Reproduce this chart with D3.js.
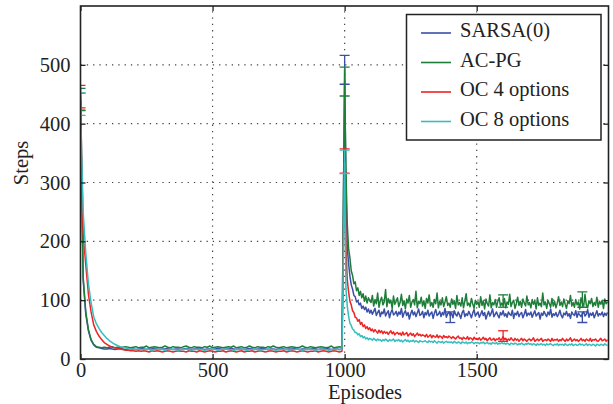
<!DOCTYPE html>
<html>
<head>
<meta charset="utf-8">
<script src="https://cdn.jsdelivr.net/npm/d3@7"></script>
<style>
  body { margin: 0; background: #fff; }
  svg { display: block; }
  text { font-family: "Liberation Serif", "Times New Roman", serif; fill: #222; }
</style>
</head>
<body>
<svg></svg>
<script>
// episode index: a mean every 10 episodes up to 990, then every 5 episodes
var episodes = d3.range(0, 1000, 10).concat(d3.range(1000, 2000, 5));

var xTicks = [0, 500, 1000, 1500];
var yTicks = [0, 100, 200, 300, 400, 500];

var seriesNames = ['SARSA(0)', 'AC-PG', 'OC 4 options', 'OC 8 options'];
var seriesColors = ['#3a4fa6', '#1f7d3a', '#ee2424', '#36bdbd'];

var sarsa = [
  // 0 - 990
  437, 135, 76, 48, 32, 24, 20, 19, 18, 17, 17, 18, 17, 16, 17, 18, 17, 16, 17, 17,
  17, 16, 17, 18, 17, 16, 17, 17, 18, 17, 16, 17, 17, 18, 17, 16, 17, 17, 16, 17,
  18, 17, 16, 17, 17, 18, 17, 16, 17, 17, 16, 17, 18, 17, 16, 17, 17, 18, 17, 16,
  17, 17, 16, 17, 18, 17, 16, 17, 17, 18, 17, 16, 17, 17, 16, 17, 18, 17, 16, 17,
  17, 18, 17, 16, 17, 17, 16, 17, 18, 17, 16, 17, 17, 18, 17, 16, 17, 17, 16, 17,
  // 1000 - 1995
  492, 290, 190, 162, 141, 126, 119, 108, 106, 97, 99, 92, 95, 86, 90, 84, 88, 80, 85, 78,
  83, 76, 81, 86, 74, 79, 83, 72, 80, 77, 85, 73, 78, 82, 70, 79, 84, 75, 77, 81,
  73, 80, 76, 86, 71, 78, 82, 74, 79, 68, 77, 83, 75, 80, 72, 78, 85, 74, 76, 81,
  70, 79, 75, 83, 73, 77, 80, 69, 78, 84, 74, 76, 81, 72, 79, 75, 86, 71, 77, 80,
  74, 78, 70, 82, 76, 73, 80, 75, 69, 79, 83, 72, 77, 74, 81, 76, 70, 78, 84, 73,
  77, 80, 71, 76, 82, 74, 79, 68, 75, 81, 73, 78, 85, 72, 76, 80, 74, 70, 79, 75,
  82, 73, 77, 71, 80, 76, 74, 83, 69, 78, 75, 81, 72, 77, 79, 70, 76, 84, 73, 78,
  75, 80, 71, 77, 82, 73, 76, 79, 68, 78, 74, 81, 76, 72, 80, 75, 85, 71, 77, 74,
  79, 72, 76, 83, 74, 70, 78, 75, 81, 73, 77, 69, 80, 76, 74, 82, 71, 78, 75, 72,
  77, 80, 73, 76, 84, 71, 78, 74, 79, 70, 76, 82, 73, 77, 75, 80, 72, 78, 74, 79
];

var acpg = [
  441, 140, 80, 50, 33, 25, 21, 20, 19, 20, 19, 20, 21, 19, 20, 19, 20, 21, 20, 19,
  20, 21, 19, 20, 20, 22, 19, 20, 21, 20, 19, 20, 22, 20, 19, 21, 20, 20, 19, 21,
  22, 20, 19, 21, 20, 20, 19, 21, 20, 22, 19, 20, 21, 20, 19, 20, 21, 20, 22, 19,
  20, 21, 19, 20, 22, 20, 19, 21, 20, 20, 19, 21, 20, 22, 20, 19, 20, 21, 19, 20,
  21, 20, 19, 20, 22, 20, 19, 21, 20, 19, 20, 21, 20, 19, 20, 22, 19, 20, 21, 20,
  471, 320, 230, 188, 172, 150, 142, 128, 131, 116, 121, 108, 115, 104, 111, 98, 107, 95, 104, 99,
  96, 108, 90, 101, 94, 112, 88, 99, 105, 92, 97, 118, 89, 103, 95, 100, 86, 107, 93, 98,
  104, 89, 96, 110, 91, 99, 85, 102, 95, 108, 88, 97, 101, 92, 115, 87, 98, 94, 105, 90,
  99, 86, 103, 95, 109, 90, 96, 88, 101, 94, 112, 87, 98, 92, 104, 89, 97, 106, 91, 95,
  88, 102, 93, 99, 86, 108, 92, 96, 90, 104, 87, 98, 111, 91, 95, 89, 103, 94, 86, 100,
  93, 97, 88, 106, 91, 99, 85, 102, 94, 90, 109, 87, 96, 92, 101, 88, 98, 104, 90, 95,
  91, 103, 87, 97, 93, 110, 89, 96, 100, 86, 94, 105, 91, 98, 88, 102, 95, 90, 107, 92,
  96, 87, 101, 93, 99, 85, 104, 91, 95, 89, 112, 92, 97, 86, 100, 94, 88, 103, 90, 98,
  87, 95, 106, 91, 97, 89, 102, 93, 86, 99, 94, 108, 90, 96, 88, 101, 92, 97, 85, 104,
  95, 90, 110, 92, 87, 99, 94, 103, 89, 96, 91, 105, 88, 98, 93, 100, 86, 102, 94, 97
];

var oc4 = [
  446, 212, 160, 110, 80, 58, 47, 39, 33, 28, 25, 22, 20, 19, 18, 17, 16, 15, 15, 14,
  14, 13, 14, 13, 14, 13, 12, 14, 13, 14, 13, 12, 13, 14, 13, 12, 13, 14, 13, 13,
  12, 14, 13, 13, 12, 14, 13, 12, 13, 14, 13, 12, 13, 13, 14, 12, 13, 14, 13, 12,
  13, 14, 12, 13, 13, 14, 12, 13, 14, 13, 12, 13, 14, 13, 12, 13, 13, 14, 12, 13,
  14, 13, 12, 13, 14, 13, 12, 13, 13, 14, 12, 13, 14, 13, 12, 13, 14, 13, 12, 13,
  337, 190, 135, 114, 98, 92, 82, 79, 71, 70, 64, 67, 59, 62, 55, 58, 52, 55, 50, 53,
  48, 51, 46, 50, 47, 44, 49, 45, 48, 43, 47, 44, 46, 42, 45, 48, 43, 46, 41, 44,
  45, 42, 44, 40, 46, 41, 43, 45, 39, 42, 44, 40, 43, 38, 41, 44, 40, 42, 39, 41,
  40, 38, 42, 37, 39, 41, 36, 40, 38, 37, 41, 36, 39, 38, 35, 40, 37, 38, 36, 39,
  37, 35, 38, 36, 34, 37, 39, 35, 36, 33, 37, 35, 34, 38, 33, 36, 35, 32, 37, 34,
  35, 33, 36, 32, 34, 37, 33, 35, 31, 34, 36, 32, 33, 35, 31, 34, 33, 36, 32, 34,
  38, 33, 35, 31, 34, 32, 36, 33, 31, 35, 32, 34, 30, 33, 35, 31, 34, 32, 30, 33,
  34, 31, 33, 36, 30, 32, 34, 31, 33, 35, 30, 32, 33, 31, 34, 32, 30, 35, 31, 33,
  32, 34, 30, 33, 31, 35, 32, 30, 34, 31, 33, 36, 30, 32, 34, 31, 33, 30, 32, 35,
  31, 33, 30, 34, 32, 31, 35, 30, 33, 32, 34, 31, 30, 33, 35, 31, 32, 34, 30, 33
];

var oc8 = [
  433, 250, 180, 128, 96, 72, 60, 52, 45, 40, 35, 31, 28, 25, 23, 21, 20, 19, 18, 17,
  17, 16, 17, 16, 16, 17, 16, 15, 16, 17, 16, 16, 15, 16, 17, 16, 16, 15, 16, 16,
  17, 16, 15, 16, 16, 17, 16, 15, 16, 16, 17, 16, 15, 16, 16, 17, 16, 16, 15, 16,
  16, 17, 16, 15, 16, 16, 17, 16, 15, 16, 16, 17, 16, 16, 15, 16, 17, 16, 16, 15,
  16, 16, 17, 16, 15, 16, 16, 17, 16, 15, 16, 16, 17, 16, 15, 16, 16, 17, 16, 16,
  335, 120, 90, 73, 61, 57, 51, 49, 45, 45, 41, 43, 38, 40, 36, 38, 34, 36, 33, 35,
  34, 32, 35, 33, 31, 34, 32, 33, 30, 33, 31, 34, 32, 30, 33, 31, 32, 34, 30, 32,
  31, 33, 30, 32, 29, 31, 33, 30, 32, 29, 31, 30, 32, 29, 31, 30, 28, 31, 30, 29,
  30, 31, 29, 28, 31, 29, 30, 28, 31, 29, 27, 30, 29, 28, 30, 27, 29, 30, 28, 29,
  28, 29, 27, 30, 28, 27, 29, 28, 26, 29, 28, 27, 29, 26, 28, 27, 29, 28, 26, 28,
  27, 28, 26, 28, 27, 29, 26, 27, 28, 26, 27, 25, 28, 27, 26, 28, 25, 27, 26, 28,
  26, 27, 25, 27, 26, 24, 27, 26, 25, 27, 26, 24, 26, 25, 27, 25, 24, 26, 25, 27,
  25, 26, 24, 26, 25, 23, 26, 24, 25, 26, 24, 25, 23, 26, 24, 25, 26, 24, 23, 25,
  24, 26, 23, 25, 24, 25, 23, 26, 24, 23, 25, 24, 26, 23, 24, 25, 23, 24, 26, 24,
  25, 23, 24, 26, 23, 25, 24, 23, 25, 24, 22, 25, 24, 23, 25, 24, 23, 26, 24, 23
];

// error bars that stick out of the noise: episode, low, high
var sarsaErrEp = [0, 1000, 1400, 1900], sarsaErrLo = [423, 467, 62, 62], sarsaErrHi = [452, 516, 80, 80];
var acpgErrEp = [0, 1000, 1600, 1900], acpgErrLo = [422, 447, 88, 88], acpgErrHi = [460, 496, 109, 114];
var oc4ErrEp = [0, 1000, 1600], oc4ErrLo = [427, 316, 30], oc4ErrHi = [465, 357, 48];
var oc8ErrEp = [0, 1000], oc8ErrLo = [414, 315], oc8ErrHi = [452, 355];

var svgWidth = 613, svgHeight = 404;
var margin = { top: 6, right: 4.5, bottom: 45, left: 80.5 };

var svg = d3.select('svg')
  .attr('width', svgWidth)
  .attr('height', svgHeight);

var x = d3.scaleLinear()
  .domain([0, 1999])
  .range([margin.left, svgWidth - margin.right]);

var y = d3.scaleLinear()
  .domain([0, 600])
  .range([svgHeight - margin.bottom, margin.top]);

var x0 = x.range()[0], x1 = x.range()[1];
var y0 = y.range()[0], y1 = y.range()[1];

svg.append('defs').append('clipPath').attr('id', 'plot')
  .append('rect')
  .attr('x', x0).attr('y', y1)
  .attr('width', x1 - x0).attr('height', y0 - y1);

/* grid */
var grid = svg.append('g')
  .attr('stroke', '#444')
  .attr('stroke-width', 1.2)
  .attr('stroke-dasharray', '1.3,5');

grid.selectAll('.vx').data(xTicks.slice(1)).enter().append('line')
  .attr('x1', d => x(d)).attr('x2', d => x(d))
  .attr('y1', y0).attr('y2', y1);

grid.selectAll('.hy').data(yTicks.slice(1)).enter().append('line')
  .attr('x1', x0).attr('x2', x1)
  .attr('y1', d => y(d)).attr('y2', d => y(d));

/* lines */
var line = d3.line()
  .x((d, i) => x(episodes[i]))
  .y(d => y(d));

var allSeries = [
  { values: sarsa, ep: sarsaErrEp, lo: sarsaErrLo, hi: sarsaErrHi },
  { values: acpg, ep: acpgErrEp, lo: acpgErrLo, hi: acpgErrHi },
  { values: oc4, ep: oc4ErrEp, lo: oc4ErrLo, hi: oc4ErrHi },
  { values: oc8, ep: oc8ErrEp, lo: oc8ErrLo, hi: oc8ErrHi }
];

var plot = svg.append('g').attr('clip-path', 'url(#plot)');

allSeries.forEach(function(s, k) {
  var g = plot.append('g');
  g.append('path')
    .datum(s.values)
    .attr('fill', 'none')
    .attr('stroke', seriesColors[k])
    .attr('stroke-width', 1.5)
    .attr('stroke-linejoin', 'round')
    .attr('d', line);

  var eb = g.selectAll('.eb').data(s.ep).enter().append('g')
    .attr('stroke', seriesColors[k])
    .attr('stroke-width', 1.3);
  eb.append('line')
    .attr('x1', d => x(d)).attr('x2', d => x(d))
    .attr('y1', (d, i) => y(s.lo[i])).attr('y2', (d, i) => y(s.hi[i]));
  eb.append('line')
    .attr('x1', d => x(d) - 5).attr('x2', d => x(d) + 5)
    .attr('y1', (d, i) => y(s.lo[i])).attr('y2', (d, i) => y(s.lo[i]));
  eb.append('line')
    .attr('x1', d => x(d) - 5).attr('x2', d => x(d) + 5)
    .attr('y1', (d, i) => y(s.hi[i])).attr('y2', (d, i) => y(s.hi[i]));
});

/* axes, ticks point inward */
var fontSize = '20.5px';
var fmt = d3.format('d');

svg.append('g')
  .attr('transform', 'translate(0,' + y0 + ')')
  .call(d3.axisBottom(x).tickValues(xTicks).tickFormat(fmt).tickSize(-5).tickPadding(3))
  .call(g => g.select('.domain').remove())
  .call(g => g.selectAll('text').style('font-size', fontSize))
  .call(g => g.selectAll('line').attr('stroke', '#222').attr('stroke-width', 1.3));

svg.append('g')
  .attr('transform', 'translate(0,' + y1 + ')')
  .call(d3.axisTop(x).tickValues(xTicks).tickSize(-5).tickFormat(''))
  .call(g => g.select('.domain').remove())
  .call(g => g.selectAll('line').attr('stroke', '#222').attr('stroke-width', 1.3));

svg.append('g')
  .attr('transform', 'translate(' + x0 + ',0)')
  .call(d3.axisLeft(y).tickValues(yTicks).tickFormat(fmt).tickSize(-5).tickPadding(10))
  .call(g => g.select('.domain').remove())
  .call(g => g.selectAll('text').style('font-size', fontSize))
  .call(g => g.selectAll('line').attr('stroke', '#222').attr('stroke-width', 1.3));

svg.append('g')
  .attr('transform', 'translate(' + x1 + ',0)')
  .call(d3.axisRight(y).tickValues(yTicks).tickSize(-5).tickFormat(''))
  .call(g => g.select('.domain').remove())
  .call(g => g.selectAll('line').attr('stroke', '#222').attr('stroke-width', 1.3));

svg.append('rect')
  .attr('x', x0).attr('y', y1)
  .attr('width', x1 - x0).attr('height', y0 - y1)
  .attr('fill', 'none')
  .attr('stroke', '#222')
  .attr('stroke-width', 1.6);

svg.append('text')
  .attr('transform', 'translate(28,163) rotate(-90)')
  .attr('text-anchor', 'middle')
  .style('font-size', fontSize)
  .text('Steps');

svg.append('text')
  .attr('x', 365).attr('y', 399)
  .attr('text-anchor', 'middle')
  .style('font-size', fontSize)
  .text('Episodes');

/* legend */
var legend = svg.append('g');
legend.append('rect')
  .attr('x', 406.5).attr('y', 14.5)
  .attr('width', 194.5).attr('height', 125.5)
  .attr('fill', '#fff')
  .attr('stroke', '#222')
  .attr('stroke-width', 1.5);

var item = legend.selectAll('.item').data(seriesNames).enter().append('g')
  .attr('transform', (d, i) => 'translate(0,' + (33 + i * 29.5) + ')');
item.append('line')
  .attr('x1', 421).attr('x2', 451)
  .attr('stroke', (d, i) => seriesColors[i])
  .attr('stroke-width', 1.6);
item.append('text')
  .attr('x', 460).attr('y', 4)
  .style('font-size', fontSize)
  .text(d => d);
</script>
</body>
</html>
